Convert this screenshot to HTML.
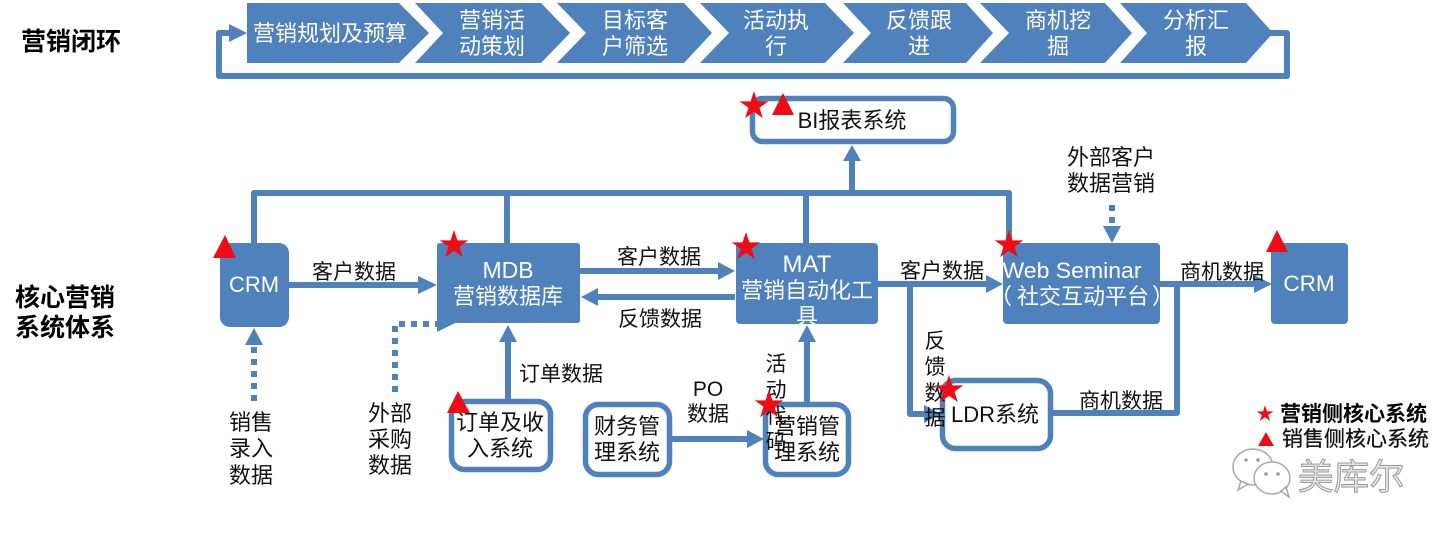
<!DOCTYPE html>
<html lang="zh">
<head>
<meta charset="utf-8">
<title>营销闭环与核心营销系统体系</title>
<style>
html,body{margin:0;padding:0;background:#fff;}
svg{display:block;}
text{font-family:"Liberation Sans","Noto Sans CJK SC",sans-serif;}
.w{fill:#fff;font-size:22px;text-anchor:middle;}
.k{fill:#111;font-size:21px;text-anchor:middle;}
.k2{font-size:22px;}
.b{fill:#000;font-size:25px;font-weight:700;}
.l{fill:none;stroke:#4f81bd;stroke-width:6;stroke-linejoin:round;}
.d{fill:none;stroke:#4f81bd;stroke-width:6;stroke-dasharray:6 6;}
.bx{fill:#fff;stroke:#4f81bd;stroke-width:5.5;}
.f{fill:#4f81bd;}
.r{fill:#f00c14;}
</style>
</head>
<body>
<svg width="1453" height="540" viewBox="0 0 1453 540" xmlns="http://www.w3.org/2000/svg">
<defs>
<polygon id="s" points="0,-15 3.4,-4.6 14.3,-4.6 5.5,1.8 8.8,12.1 0,5.7 -8.8,12.1 -5.5,1.8 -14.3,-4.6 -3.4,-4.6"/>
<clipPath id="c"><rect x="736" y="243" width="142" height="81"/></clipPath>
</defs>
<rect width="1453" height="540" fill="#fff"/>

<!-- loop frame -->
<path class="l" d="M1270 33H1287V76H219V33H232"/>
<polygon class="f" points="229,24 247,33 229,42"/>

<!-- chevrons -->
<g class="f">
<polygon points="247,3 399,3 429,33 399,63 247,63"/>
<polygon points="415,3 541,3 570,33 541,63 415,63 443,33"/>
<polygon points="557,3 684,3 712,33 684,63 557,63 586,33"/>
<polygon points="700,3 825,3 854,33 825,63 700,63 729,33"/>
<polygon points="843,3 966,3 993,33 966,63 843,63 871,33"/>
<polygon points="980,3 1105,3 1132,33 1105,63 980,63 1009,33"/>
<polygon points="1120,3 1246,3 1273,33 1246,63 1120,63 1147,33"/>
</g>
<g class="w">
<text x="330" y="41">营销规划及预算</text>
<text x="492" y="28">营销活</text><text x="492" y="54">动策划</text>
<text x="635" y="28">目标客</text><text x="635" y="54">户筛选</text>
<text x="776" y="28">活动执</text><text x="776" y="54">行</text>
<text x="919" y="28">反馈跟</text><text x="919" y="54">进</text>
<text x="1058" y="28">商机挖</text><text x="1058" y="54">掘</text>
<text x="1196" y="28">分析汇</text><text x="1196" y="54">报</text>
</g>

<!-- left titles -->
<text class="b" x="21" y="50">营销闭环</text>
<text class="b" x="15" y="306">核心营销</text>
<text class="b" x="15" y="336">系统体系</text>

<!-- top bus -->
<path class="l" d="M254 245V193H1009V245M507 193V245M806 193V245M852 193V158"/>
<polygon class="f" points="852,145 861,161 843,161"/>

<!-- BI -->
<rect class="bx" x="752.500" y="98.500" width="201" height="43" rx="10"/>
<text class="k k2" x="852" y="128">BI报表系统</text>

<!-- external customer -->
<text class="k k2" x="1111" y="165">外部客户</text>
<text class="k k2" x="1111" y="191">数据营销</text>
<path class="d" d="M1112 205V226"/>
<polygon class="f" points="1112,243 1103,226 1121,226"/>

<!-- flow lines -->
<path class="l" d="M289 285H420"/>
<polygon class="f" points="437,285 418,276 418,294"/>
<path class="l" d="M580 271H720"/>
<polygon class="f" points="735,271 718,262 718,280"/>
<path class="l" d="M735 297H596"/>
<polygon class="f" points="581,297 598,288 598,306"/>
<path class="l" d="M878 284H986"/>
<polygon class="f" points="1003,284 986,275 986,293"/>
<path class="l" d="M1160 284H1256"/>
<polygon class="f" points="1272,284 1254,275 1254,293"/>
<path class="l" d="M910 284V414H926"/>
<polygon class="f" points="941,414 924,405 924,423"/>
<path class="l" d="M1050 413H1177V284"/>
<path class="l" d="M508 402V340"/>
<polygon class="f" points="508,325 517,342 499,342"/>
<path class="l" d="M807 404V340"/>
<polygon class="f" points="807,325 816,342 798,342"/>
<path class="l" d="M670 439H749"/>
<polygon class="f" points="764,439 747,430 747,448"/>
<path class="d" d="M254 401V345"/>
<polygon class="f" points="254,328 263,345 245,345"/>
<path class="d" d="M395 392V324H437"/>

<!-- solid boxes -->
<rect class="f" x="220" y="243" width="69" height="84" rx="10"/>
<path class="f" d="M437 246Q437 243 440 243H577Q580 243 580 246V320Q580 323 577 323H455L437 332Z"/>
<rect class="f" x="736" y="243" width="142" height="81" rx="4"/>
<rect class="f" x="1003" y="243" width="157" height="81" rx="4"/>
<rect class="f" x="1271" y="243" width="77" height="81" rx="4"/>

<g class="w">
<text x="254" y="292" style="font-size:22px">CRM</text>
<text x="508" y="278" style="font-size:23px">MDB</text>
<text x="508" y="304">营销数据库</text>
<text x="807" y="272" style="font-size:24px">MAT</text>
<text x="807" y="298">营销自动化工</text>
<text x="807" y="324" clip-path="url(#c)">具</text>
<text x="1072" y="278" textLength="139" lengthAdjust="spacingAndGlyphs">Web Seminar</text>
<text x="1012" y="304" style="text-anchor:end">（</text>
<text x="1083" y="304">社交互动平台</text>
<text x="1152" y="304" style="text-anchor:start">）</text>
<text x="1309" y="291" style="font-size:22.500px">CRM</text>
</g>

<!-- outlined boxes -->
<rect class="bx" x="451.500" y="401.500" width="99" height="68" rx="13"/>
<rect class="bx" x="585.500" y="404.500" width="84" height="70" rx="13"/>
<rect class="bx" x="765.500" y="404.500" width="83" height="70" rx="13"/>
<rect class="bx" x="942.500" y="380.500" width="108" height="68" rx="13"/>

<g class="k">
<text class="k2" x="500" y="430">订单及收</text><text class="k2" x="500" y="456">入系统</text>
<text class="k2" x="627" y="434">财务管</text><text class="k2" x="627" y="460">理系统</text>
<text class="k2" x="807" y="434">营销管</text><text class="k2" x="807" y="460">理系统</text>
<text class="k2" x="995" y="422">LDR系统</text>

<text x="354" y="279">客户数据</text>
<text x="659" y="264">客户数据</text>
<text x="660" y="326">反馈数据</text>
<text x="942" y="278">客户数据</text>
<text x="1222" y="279">商机数据</text>
<text x="1121" y="408">商机数据</text>
<text x="561" y="381">订单数据</text>
<text x="708" y="396">PO</text>
<text x="708" y="421">数据</text>

<text class="k2" x="251" y="430">销售</text><text class="k2" x="251" y="456">录入</text><text class="k2" x="251" y="483">数据</text>
<text class="k2" x="390" y="421">外部</text><text class="k2" x="390" y="447">采购</text><text class="k2" x="390" y="473">数据</text>

<text x="776" y="371">活</text><text x="776" y="397">动</text><text x="776" y="423">代</text><text x="776" y="449">码</text>
<text x="935" y="348">反</text><text x="935" y="374">馈</text><text x="935" y="400">数</text><text x="935" y="425">据</text>
</g>

<!-- markers -->
<g class="r">
<use href="#s" x="754" y="106"/>
<polygon points="783,93 794,115 772,115"/>
<polygon points="225,235 236,258 213,258"/>
<use href="#s" x="454" y="245"/>
<use href="#s" x="746" y="247"/>
<use href="#s" x="1009" y="245"/>
<polygon points="1277,230 1288,252 1266,252"/>
<polygon points="458,391 470,413 447,413"/>
<use href="#s" x="769" y="405"/>
<use href="#s" x="949" y="390"/>
<use href="#s" transform="translate(1265 414) scale(.58)"/>
<polygon points="1266,432 1274,446 1258,446"/>
</g>

<!-- legend -->
<text x="1280" y="421" style="font-size:21px;font-weight:700;fill:#000">营销侧核心系统</text>
<text x="1282" y="446" style="font-size:21px;fill:#111;stroke:#111;stroke-width:.3">销售侧核心系统</text>

<!-- watermark -->
<g fill="#fff" stroke="#a8a8a8" stroke-width="1.500">
<ellipse cx="1253" cy="467" rx="20" ry="18"/>
<path d="M1241 481L1238 490L1248 484Z"/>
<ellipse cx="1272" cy="478" rx="18" ry="16"/>
<path d="M1281 491L1289 497L1286 487Z"/>
</g>
<g fill="#999"><circle cx="1246" cy="460" r="1.800"/><circle cx="1258" cy="460" r="1.800"/><circle cx="1266" cy="474" r="1.800"/><circle cx="1278" cy="474" r="1.800"/></g>
<text x="1298" y="489" style="font-size:35.500px;fill:#e8e8e8;stroke:#999;stroke-width:1">美库尔</text>
</svg>
</body>
</html>
